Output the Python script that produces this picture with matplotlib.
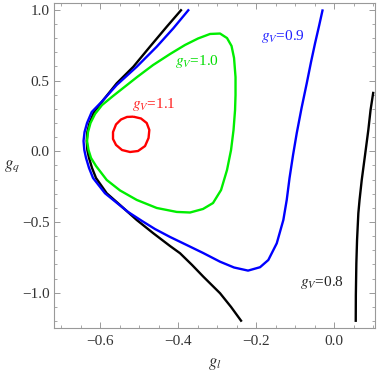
import matplotlib
matplotlib.use("Agg")
import matplotlib.pyplot as plt
from matplotlib.ticker import MultipleLocator, FuncFormatter

plt.rcParams['font.family'] = ['Liberation Serif', 'DejaVu Serif']
plt.rcParams['mathtext.fontset'] = 'stix'

# gV = 0.8 (two branches)
gl_08a = [-0.3905, -0.429, -0.472, -0.5146, -0.5572, -0.5915, -0.6154, -0.6269, -0.6326, -0.6341,
          -0.6326, -0.6282, -0.6205, -0.6103, -0.5828, -0.5487, -0.5059, -0.4633, -0.4205, -0.3949,
          -0.3641, -0.3351, -0.2923, -0.2641, -0.2367]
gq_08a = [1.004, 0.881, 0.740, 0.598, 0.481, 0.363, 0.278, 0.200, 0.136, 0.073,
          0.009, -0.047, -0.118, -0.189, -0.297, -0.380, -0.486, -0.580, -0.670, -0.721,
          -0.804, -0.887, -1.004, -1.101, -1.205]
gl_08b = [0.1008, 0.0936, 0.0879, 0.0795, 0.0710, 0.0654, 0.0623, 0.0590, 0.0572, 0.0559, 0.0556]
gq_08b = [0.421, 0.292, 0.151, -0.026, -0.203, -0.344, -0.438, -0.627, -0.792, -1.016, -1.207]

# gV = 0.9
gl_09 = [-0.3718, -0.4121, -0.4546, -0.5059, -0.5572, -0.5956, -0.6213, -0.6333, -0.6397, -0.6423,
         -0.6403, -0.6359, -0.6282, -0.6179, -0.5872, -0.5564, -0.5282, -0.4923, -0.4590, -0.4205,
         -0.3777, -0.3359, -0.2923, -0.2564, -0.2205, -0.1897, -0.1685, -0.1469, -0.1300, -0.1213,
         -0.1141, -0.1051, -0.0956, -0.0833, -0.0700, -0.0590, -0.0487, -0.0385, -0.0290]
gq_09 = [1.004, 0.870, 0.740, 0.598, 0.469, 0.351, 0.278, 0.200, 0.136, 0.073,
         0.009, -0.047, -0.118, -0.189, -0.297, -0.366, -0.429, -0.493, -0.550, -0.606,
         -0.663, -0.719, -0.781, -0.822, -0.844, -0.820, -0.769, -0.651, -0.486, -0.344,
         -0.189, -0.026, 0.129, 0.306, 0.481, 0.632, 0.764, 0.886, 1.004]

# gV = 1.0 (closed)
gl_10 = [-0.6333, -0.6308, -0.6244, -0.6128, -0.5949, -0.5667, -0.5359, -0.5051, -0.4641, -0.4205,
         -0.3821, -0.3487, -0.3179, -0.2923, -0.2744, -0.2628, -0.2564, -0.2526, -0.2526, -0.2538,
         -0.2577, -0.2641, -0.2744, -0.2897, -0.3103, -0.3359, -0.3692, -0.4033, -0.4546, -0.5059,
         -0.5487, -0.5828, -0.6103, -0.6231, -0.6295, -0.6333]
gq_10 = [0.073, 0.136, 0.200, 0.264, 0.327, 0.391, 0.458, 0.525, 0.610, 0.688,
         0.752, 0.798, 0.830, 0.833, 0.801, 0.745, 0.660, 0.525, 0.398, 0.292,
         0.151, 0.009, -0.132, -0.274, -0.366, -0.408, -0.433, -0.429, -0.401, -0.344,
         -0.277, -0.203, -0.104, -0.047, 0.009, 0.073]

# gV = 1.1 (closed)
gl_11 = [-0.5146, -0.4949, -0.4803, -0.4736, -0.4756, -0.4846, -0.5026, -0.5231, -0.5436, -0.5590,
         -0.5667, -0.5667, -0.5590, -0.5462, -0.5308, -0.5146]
gq_11 = [0.245, 0.232, 0.200, 0.151, 0.094, 0.037, 0.002, -0.005, 0.009, 0.045,
         0.087, 0.136, 0.190, 0.225, 0.243, 0.245]

xticks = [-0.6, -0.4, -0.2, 0.0]
yticks = [-1.0, -0.5, 0.0, 0.5, 1.0]

fig = plt.figure(figsize=(3.8, 3.76), dpi=100)
ax = fig.add_axes([54/380, 48/376, 321/380, 325/376])

lw = 1.7
style = dict(lw=lw, solid_joinstyle='round', solid_capstyle='butt')
ax.plot(gl_08a, gq_08a, color='black', **style)
ax.plot(gl_08b, gq_08b, color='black', **style)
ax.plot(gl_09, gq_09, color='#0000ff', **style)
ax.plot(gl_10, gq_10, color='#00ee00', **style)
ax.plot(gl_11, gq_11, color='#ff0000', **style)

fs = 11
ax.text(-0.4615, 0.334, r'$g_V$=1.1', color='#ff2020', fontsize=fs, ha='center', va='center')
ax.text(-0.351, 0.638, r'$g_V$=1.0', color='#00dd00', fontsize=fs, ha='center', va='center')
ax.text(-0.131, 0.815, r'$g_V$=0.9', color='#2020ff', fontsize=fs, ha='center', va='center')
ax.text(-0.031, -0.925, r'$g_V$=0.8', color='#222222', fontsize=fs, ha='center', va='center')

ax.set_xlim(-0.718, 0.105)
ax.set_ylim(-1.25, 1.049)
ax.set_xticks(xticks)
ax.set_yticks(yticks)
ax.xaxis.set_minor_locator(MultipleLocator(0.05))
ax.yaxis.set_minor_locator(MultipleLocator(0.1))
fmt = FuncFormatter(lambda v, p: f'{v:.1f}'.replace('-', '\u2212'))
ax.xaxis.set_major_formatter(fmt)
ax.yaxis.set_major_formatter(fmt)

frame_c = '#999999'
for s in ax.spines.values():
    s.set_color(frame_c)
    s.set_linewidth(0.8)
ax.tick_params(which='both', direction='in', top=True, right=True, color=frame_c,
               labelsize=fs, labelcolor='#333333')
ax.tick_params(which='major', length=4.5, width=0.7)
ax.tick_params(which='minor', length=2.5, width=0.6)
ax.tick_params(axis='x', pad=5)
ax.tick_params(axis='y', pad=3)

ax.set_xlabel(r'$g_l$', fontsize=fs + 1, color='#333333', labelpad=6)
ax.set_ylabel(r'$g_q$', fontsize=fs + 1, color='#333333', rotation=0, labelpad=0, va='center')
ax.yaxis.set_label_coords(-0.13, 0.5)

fig.savefig('out.png', dpi=100)
